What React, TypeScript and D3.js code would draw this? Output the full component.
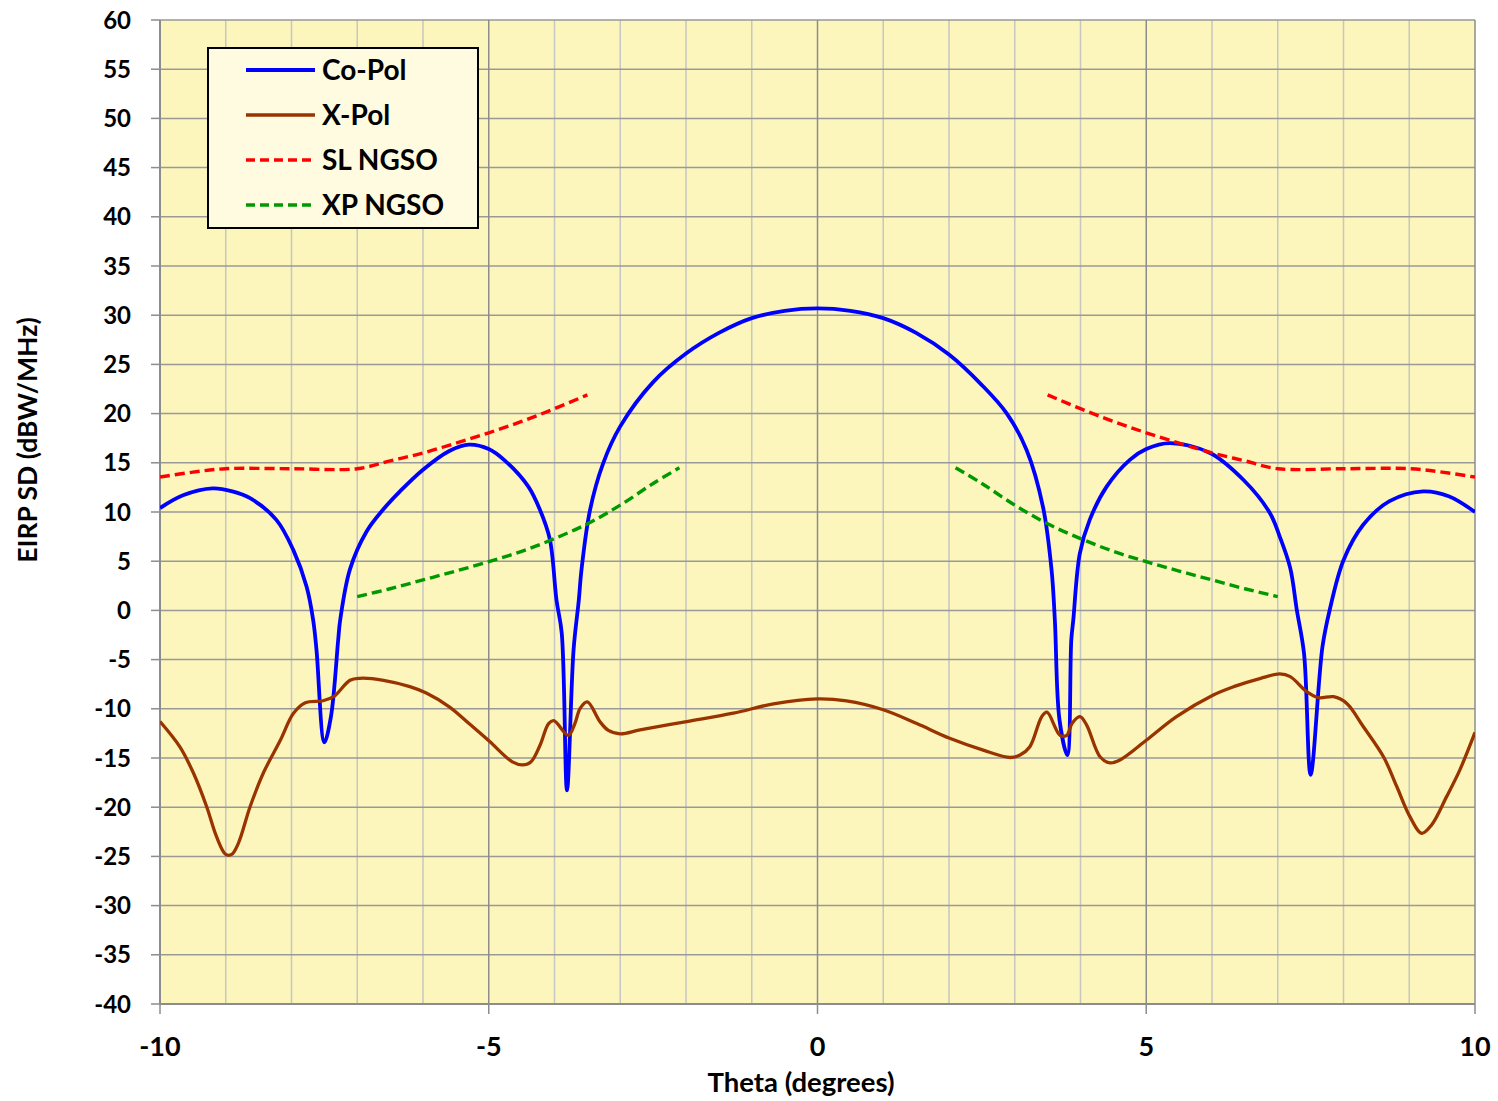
import React from "react";
import * as d3 from "d3";

// ---- Data ----
const coPolTheta = [-10, -9.65, -9.2, -8.9, -8.63, -8.23, -7.97, -7.77, -7.67, -7.62, -7.5, -7.4, -7.29, -7.26, -7.11, -6.86, -6.6, -6.35, -6.0, -5.6, -5.3, -5.0, -4.75, -4.4, -4.22, -4.07, -3.97, -3.89, -3.81, -3.71, -3.63, -3.59, -3.46, -3.26, -3.0, -2.5, -2.0, -1.5, -1.0, -0.5, 0, 0.5, 1.0, 1.5, 2.0, 2.5, 2.88, 3.18, 3.43, 3.56, 3.61, 3.68, 3.8, 3.86, 3.89, 3.99, 4.14, 4.4, 4.75, 5.0, 5.36, 5.97, 6.48, 6.88, 7.03, 7.19, 7.29, 7.4, 7.5, 7.68, 7.79, 8.0, 8.3, 8.7, 9.21, 9.6, 10.0];
const coPolValues = [10.4, 11.7, 12.4, 12.1, 11.4, 9.2, 6.1, 2.4, -1.0, -4.0, -13.4, -10.8, -3.0, -1.0, 4.2, 8.0, 10.3, 12.1, 14.3, 16.2, 16.85, 16.4, 15.2, 12.6, 10.2, 7.2, 1.06, -2.3, -18.3, -4.0, 1.06, 4.1, 10.2, 14.95, 18.7, 23.2, 26.1, 28.2, 29.7, 30.45, 30.7, 30.45, 29.7, 28.2, 26.0, 22.9, 20.0, 16.3, 10.5, 4.1, -1.0, -11.1, -14.7, -3.0, -1.0, 5.8, 9.2, 12.6, 15.3, 16.4, 17.0, 16.0, 13.25, 9.9, 7.5, 4.3, 0.04, -4.4, -16.7, -3.7, 0.04, 5.1, 8.7, 11.1, 12.1, 11.6, 10.0];

const xPolTheta = [-10, -9.7, -9.49, -9.29, -9.14, -9.0, -8.91, -8.81, -8.63, -8.43, -8.17, -7.97, -7.79, -7.52, -7.36, -7.11, -6.96, -6.6, -6.2, -5.95, -5.6, -5.3, -4.99, -4.64, -4.49, -4.36, -4.22, -4.09, -4.01, -3.79, -3.69, -3.61, -3.5, -3.31, -3.18, -3.0, -2.7, -1.99, -1.28, -0.67, 0, 0.44, 1.0, 1.51, 2.01, 2.52, 2.93, 3.08, 3.23, 3.41, 3.49, 3.69, 3.79, 3.87, 3.99, 4.09, 4.3, 4.45, 4.6, 5.0, 5.46, 6.02, 6.33, 6.74, 7.03, 7.19, 7.44, 7.62, 7.85, 8.05, 8.3, 8.61, 8.81, 9.01, 9.19, 9.34, 9.57, 9.77, 10.0];
const xPolValues = [-11.3, -13.85, -16.55, -19.95, -23.0, -24.8, -24.8, -23.7, -19.95, -16.55, -13.2, -10.45, -9.38, -9.18, -8.77, -7.1, -6.9, -7.1, -7.75, -8.4, -9.8, -11.5, -13.3, -15.4, -15.7, -15.4, -13.7, -11.5, -11.2, -12.7, -11.5, -9.95, -9.3, -11.3, -12.2, -12.55, -12.15, -11.3, -10.45, -9.5, -9.0, -9.2, -10.1, -11.5, -13.0, -14.2, -14.95, -14.7, -13.85, -10.8, -10.35, -12.7, -12.7, -11.5, -10.8, -11.6, -14.9, -15.5, -15.2, -13.2, -10.8, -8.6, -7.75, -6.9, -6.46, -6.73, -8.26, -8.87, -8.77, -9.45, -11.8, -14.9, -17.9, -20.96, -22.65, -21.8, -18.9, -16.2, -12.4];

const slLeftTheta = [-10, -9.5, -9, -8, -7, -6.5, -6, -5.5, -5, -4.5, -4, -3.5];
const slLeftValues = [13.55, 14.05, 14.4, 14.4, 14.4, 15.2, 16.0, 17.0, 18.05, 19.2, 20.5, 21.9];
const slRightTheta = [3.5, 4, 4.5, 5, 5.5, 6, 6.5, 7, 8, 9, 9.5, 10];
const slRightValues = [21.9, 20.5, 19.2, 18.05, 17.0, 16.0, 15.2, 14.4, 14.4, 14.4, 14.05, 13.55];

const xpLeftTheta = [-7, -6.5, -6, -5.5, -5, -4.5, -4, -3.5, -3, -2.5, -2.1];
const xpLeftValues = [1.4, 2.2, 3.1, 4.0, 4.95, 6.0, 7.3, 8.8, 10.7, 12.9, 14.5];
const xpRightTheta = [2.1, 2.5, 3, 3.5, 4, 4.5, 5, 5.5, 6, 6.5, 7];
const xpRightValues = [14.5, 12.9, 10.7, 8.8, 7.3, 6.0, 4.95, 4.0, 3.1, 2.2, 1.4];

const xTicks = [-10, -5, 0, 5, 10];
const xMinorTicks = d3.range(-10, 11, 1);
const yTicks = d3.range(-40, 61, 5);

const legendLabels = ["Co-Pol", "X-Pol", "SL NGSO", "XP NGSO"];

const zip = (xs: number[], ys: number[]) => xs.map((x, i) => [x, ys[i]] as [number, number]);

export default function App() {
  const W = 1498, H = 1101;
  const m = { left: 160, right: 1475, top: 20, bottom: 1004 };
  const x = d3.scaleLinear().domain([-10, 10]).range([m.left, m.right]);
  const y = d3.scaleLinear().domain([-40, 60]).range([m.bottom, m.top]);

  const smooth = d3.line<[number, number]>().x(d => x(d[0])).y(d => y(d[1])).curve(d3.curveCatmullRom.alpha(0.5));

  const font = "Lato, 'Open Sans', sans-serif";
  const series = [
    { label: legendLabels[0], color: "#0000ff", width: 3.8, dash: undefined as string | undefined, parts: [zip(coPolTheta, coPolValues)] },
    { label: legendLabels[1], color: "#993300", width: 3.3, dash: undefined, parts: [zip(xPolTheta, xPolValues)] },
    { label: legendLabels[2], color: "#ff0000", width: 3.4, dash: "10,5", parts: [zip(slLeftTheta, slLeftValues), zip(slRightTheta, slRightValues)] },
    { label: legendLabels[3], color: "#009900", width: 3.4, dash: "10,5", parts: [zip(xpLeftTheta, xpLeftValues), zip(xpRightTheta, xpRightValues)] },
  ];

  return (
    <svg width={W} height={H} style={{ position: "absolute", left: 0, top: 0, display: "block", background: "#fff" }} fontFamily={font}>
      <defs>
        <clipPath id="plotclip">
          <rect x={m.left} y={m.top} width={m.right - m.left} height={m.bottom - m.top} />
        </clipPath>
      </defs>
      <rect x={m.left} y={m.top} width={m.right - m.left} height={m.bottom - m.top} fill="#fcf6bc" />
      {/* minor vertical grid */}
      {xMinorTicks.filter(t => t % 5 !== 0).map(t => (
        <line key={"vm" + t} x1={x(t)} x2={x(t)} y1={m.top} y2={m.bottom} stroke="#c6c6c2" strokeWidth={1.5} />
      ))}
      {/* horizontal grid */}
      {yTicks.map(t => (
        <line key={"h" + t} x1={m.left} x2={m.right} y1={y(t)} y2={y(t)} stroke="#999999" strokeWidth={1.5} />
      ))}
      {/* major vertical grid */}
      {xTicks.map(t => (
        <line key={"vM" + t} x1={x(t)} x2={x(t)} y1={m.top} y2={m.bottom} stroke="#8c8c8c" strokeWidth={1.5} />
      ))}
      {/* axes */}
      <line x1={m.left} x2={m.left} y1={m.top} y2={m.bottom} stroke="#8c8c8c" strokeWidth={2} />
      <line x1={m.left} x2={m.right} y1={m.bottom} y2={m.bottom} stroke="#8c8c8c" strokeWidth={2} />
      {yTicks.map(t => (
        <g key={"yt" + t}>
          <line x1={m.left - 9} x2={m.left} y1={y(t)} y2={y(t)} stroke="#8c8c8c" strokeWidth={1.5} />
          <text x={131} y={y(t)} dy="0.36em" textAnchor="end" fontSize={24} fontWeight={700} fill="#000">{t}</text>
        </g>
      ))}
      {xTicks.map(t => (
        <g key={"xt" + t}>
          <line x1={x(t)} x2={x(t)} y1={m.bottom} y2={m.bottom + 10} stroke="#8c8c8c" strokeWidth={1.5} />
          <text x={x(t)} y={1056} textAnchor="middle" fontSize={27} fontWeight={700} fill="#000">{t}</text>
        </g>
      ))}
      {/* series */}
      <g clipPath="url(#plotclip)">
        {series.map(s => s.parts.map((p, i) => (
          <path key={s.label + i} d={smooth(p) || ""} fill="none" stroke={s.color} strokeWidth={s.width}
            strokeDasharray={s.dash} strokeLinejoin="round" />
        )))}
      </g>
      {/* axis titles */}
      <text x={801} y={1092} textAnchor="middle" fontSize={27.5} fontWeight={700} fill="#000">Theta (degrees)</text>
      <text transform="translate(37,440) rotate(-90)" textAnchor="middle" fontSize={26.5} fontWeight={700} fill="#000">EIRP SD (dBW/MHz)</text>
      {/* legend */}
      <rect x={208} y={48} width={270} height={180} fill="#fefbe0" stroke="#000" strokeWidth={2} />
      {series.map((s, i) => (
        <g key={"lg" + i}>
          <line x1={246} x2={315} y1={70 + i * 45} y2={70 + i * 45} stroke={s.color} strokeWidth={s.width} strokeDasharray={s.dash ? "9,5" : undefined} />
          <text x={322} y={70 + i * 45} dy="0.36em" fontSize={28} fontWeight={700} fill="#000">{s.label}</text>
        </g>
      ))}
    </svg>
  );
}
